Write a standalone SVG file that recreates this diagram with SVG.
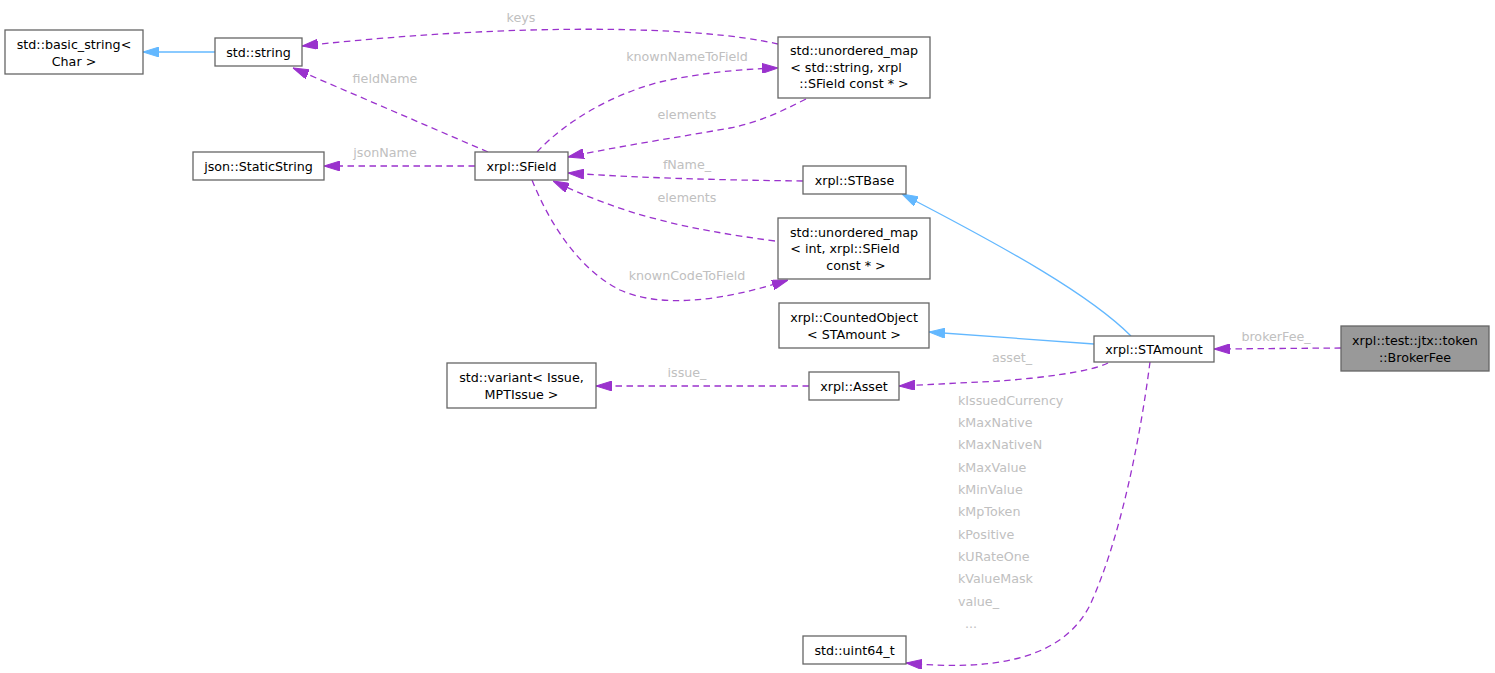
<svg xmlns="http://www.w3.org/2000/svg" width="1495" height="673" viewBox="0 0 1495 673">
<style>
.n rect{fill:#ffffff;stroke:#666666;stroke-width:1.3}
.n.hl rect{fill:#999999}
.n text{font-family:"DejaVu Sans","Liberation Sans",sans-serif;font-size:12.7px;fill:#000000;text-anchor:middle}
.e{fill:none;stroke:#9a32cd;stroke-width:1.3;stroke-dasharray:6.5,4.5}
.i{fill:none;stroke:#63b8ff;stroke-width:1.3}
.l{font-family:"DejaVu Sans","Liberation Sans",sans-serif;font-size:12.7px;fill:#c0c0c0;text-anchor:middle}
.ls{text-anchor:start}
</style>
<defs>
<marker id="ap" markerUnits="userSpaceOnUse" viewBox="0 0 16 10" refX="16" refY="5" markerWidth="16" markerHeight="10" orient="auto"><polygon points="0,0 16,5 0,10" fill="#9a32cd" stroke="#9a32cd"/></marker>
<marker id="ab" markerUnits="userSpaceOnUse" viewBox="0 0 16 10" refX="16" refY="5" markerWidth="16" markerHeight="10" orient="auto"><polygon points="0,0 16,5 0,10" fill="#63b8ff" stroke="#63b8ff"/></marker>
</defs>
<rect width="1495" height="673" fill="#ffffff"/>
<g id="connectors">
<path class="i" d="M215,52 L143,52" marker-end="url(#ab)"/>
<path class="e" d="M778,44 C700,26 520,22 302,46" marker-end="url(#ap)"/>
<text class="l" x="521" y="22">keys</text>
<path class="e" d="M488,152 L293,68" marker-end="url(#ap)"/>
<text class="l" x="385" y="83">fieldName</text>
<path class="e" d="M475,166 L324,166" marker-end="url(#ap)"/>
<text class="l" x="385" y="157">jsonName</text>
<path class="e" d="M537,152 C565,122 610,95 660,82 C700,73 740,69 778,68" marker-end="url(#ap)"/>
<text class="l" x="687" y="61">knownNameToField</text>
<path class="e" d="M806,99 C780,112 760,122 730,128 C680,137 620,146 568,157" marker-end="url(#ap)"/>
<text class="l" x="687" y="119">elements</text>
<path class="e" d="M803,181 C720,180 640,178 568,173" marker-end="url(#ap)"/>
<text class="l" x="687" y="169">fName_</text>
<path class="e" d="M775,241 C730,235 690,228 660,220 C620,210 585,196 553,181" marker-end="url(#ap)"/>
<text class="l" x="687" y="202">elements</text>
<path class="e" d="M532,180 C550,225 580,270 620,290 C660,308 720,302 788,280" marker-end="url(#ap)"/>
<text class="l" x="687" y="280">knownCodeToField</text>
<path class="i" d="M1131,336 C1090,295 1010,250 902,194" marker-end="url(#ab)"/>
<path class="i" d="M1094,344 L929,332" marker-end="url(#ab)"/>
<path class="e" d="M1108,363 C1090,372 1040,378 1000,381 L899,386" marker-end="url(#ap)"/>
<text class="l" x="1012" y="362">asset_</text>
<path class="e" d="M809,386 L596,386" marker-end="url(#ap)"/>
<text class="l" x="687" y="377">issue_</text>
<path class="e" d="M1150,362 C1140,440 1120,540 1090,605 C1060,665 980,670 906,663" marker-end="url(#ap)"/>
<text class="l ls" x="958" y="405">kIssuedCurrency</text>
<text class="l ls" x="958" y="427">kMaxNative</text>
<text class="l ls" x="958" y="449">kMaxNativeN</text>
<text class="l ls" x="958" y="472">kMaxValue</text>
<text class="l ls" x="958" y="494">kMinValue</text>
<text class="l ls" x="958" y="516">kMpToken</text>
<text class="l ls" x="958" y="539">kPositive</text>
<text class="l ls" x="958" y="561">kURateOne</text>
<text class="l ls" x="958" y="583">kValueMask</text>
<text class="l ls" x="958" y="606">value_</text>
<text class="l ls" x="965" y="628">...</text>
<path class="e" d="M1341,348 L1214,349" marker-end="url(#ap)"/>
<text class="l" x="1276" y="341">brokerFee_</text>
</g>
<g id="node_basic_string" class="n"><rect x="5" y="30" width="138" height="44"/><text x="74" y="48.5">std::basic_string&lt;</text><text x="74" y="65.5">Char &gt;</text></g>
<g id="node_string" class="n"><rect x="215" y="38" width="87" height="28"/><text x="258.5" y="56.5">std::string</text></g>
<g id="node_staticstring" class="n"><rect x="193" y="152" width="131" height="28"/><text x="258.5" y="170.5">json::StaticString</text></g>
<g id="node_sfield" class="n"><rect x="475" y="152" width="93" height="28"/><text x="521.5" y="170.5">xrpl::SField</text></g>
<g id="node_map_string" class="n"><rect x="778" y="37" width="152" height="61"/><text x="854" y="54.5">std::unordered_map</text><text x="846" y="71.5">&lt; std::string, xrpl</text><text x="854" y="87.5">::SField const * &gt;</text></g>
<g id="node_stbase" class="n"><rect x="803" y="166" width="103" height="28"/><text x="854.5" y="184.5">xrpl::STBase</text></g>
<g id="node_map_int" class="n"><rect x="778" y="218" width="152" height="61"/><text x="854" y="236.5">std::unordered_map</text><text x="845" y="252.5">&lt; int, xrpl::SField</text><text x="856" y="269.5">const * &gt;</text></g>
<g id="node_counted" class="n"><rect x="779" y="303" width="150" height="45"/><text x="854" y="321.5">xrpl::CountedObject</text><text x="854" y="338.5">&lt; STAmount &gt;</text></g>
<g id="node_variant" class="n"><rect x="447" y="363" width="149" height="45"/><text x="521.5" y="381.5">std::variant&lt; Issue,</text><text x="521.5" y="398.5">MPTIssue &gt;</text></g>
<g id="node_asset" class="n"><rect x="809" y="372" width="90" height="28"/><text x="854" y="390.5">xrpl::Asset</text></g>
<g id="node_stamount" class="n"><rect x="1094" y="336" width="120" height="26"/><text x="1154" y="353.5">xrpl::STAmount</text></g>
<g id="node_brokerfee" class="n hl"><rect x="1341" y="326" width="148" height="45"/><text x="1415" y="344.5">xrpl::test::jtx::token</text><text x="1415" y="361.5">::BrokerFee</text></g>
<g id="node_uint64" class="n"><rect x="803" y="636" width="103" height="28"/><text x="854.5" y="654.5">std::uint64_t</text></g>
</svg>
